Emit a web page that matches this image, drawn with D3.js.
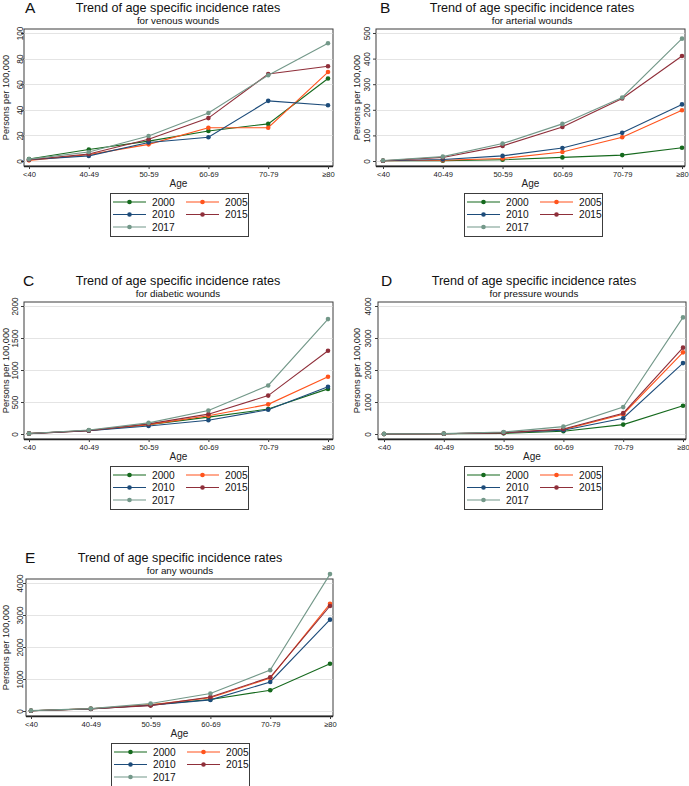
<!DOCTYPE html>
<html><head><meta charset="utf-8">
<script src="https://cdn.jsdelivr.net/npm/d3@7"></script>
<style>
html,body{margin:0;padding:0;background:#fff;}
svg{display:block;font-family:"Liberation Sans",Arial,sans-serif;}
</style></head>
<body>
<svg id="chart" width="689" height="786"></svg>
<script>
// ---- data ----
const ageGroups = ["<40","40-49","50-59","60-69","70-79","\u226580"];
const years = ["2000","2005","2010","2015","2017"];
const yearColors = ["#15691d","#ff531c","#1d4c7a","#8f2f3a","#739889"];

const venousRates = [
  [1.5, 9, 15.5, 23.5, 29, 64.5],
  [0.5, 5, 13, 26, 26, 69.5],
  [1, 4, 14.5, 18.5, 47, 43.5],
  [1, 5.5, 17, 33.5, 68, 74],
  [1.5, 7, 19.5, 37.5, 67, 92]
];
const arterialRates = [
  [1, 1, 5, 14, 23, 52],
  [1, 3, 10, 35, 93, 198],
  [1, 6, 20, 51, 110, 221],
  [1, 14, 59, 133, 244, 410],
  [2, 17, 68, 145, 248, 478]
];
const diabeticRates = [
  [8, 55, 147, 263, 390, 705],
  [6, 50, 147, 284, 463, 895],
  [6, 50, 126, 216, 379, 737],
  [7, 55, 158, 310, 600, 1300],
  [8, 62, 174, 368, 758, 1795]
];
const pressureRates = [
  [2, 8, 21, 84, 294, 882],
  [2, 10, 42, 136, 620, 2551],
  [2, 10, 42, 115, 493, 2215],
  [2, 10, 42, 157, 651, 2698],
  [3, 12, 63, 231, 840, 3643]
];
const anyRates = [
  [10, 68, 190, 358, 650, 1478],
  [9, 65, 190, 414, 1030, 3348],
  [9, 64, 180, 347, 907, 2855],
  [10, 68, 168, 437, 1053, 3281],
  [12, 75, 235, 549, 1277, 4278]
];

const venousTicks = [0, 20, 40, 60, 80, 100];
const arterialTicks = [0, 100, 200, 300, 400, 500];
const diabeticTicks = [0, 500, 1000, 1500, 2000];
const pressureTicks = [0, 1000, 2000, 3000, 4000];
const anyTicks = [0, 1000, 2000, 3000, 4000];

const panelLetters = ["A","B","C","D","E"];
const mainTitle = "Trend of age specific incidence rates";
const subTitles = ["for venous wounds","for arterial wounds","for diabetic wounds","for pressure wounds","for any wounds"];
const yAxisTitle = "Persons per 100,000";
const xAxisTitle = "Age";

// ---- layout ----
const layouts = [
  {dy:0,   frameL:24,  frameR:333, xFirst:29,  xLast:328, yLabX:23,  yTitX:8.5, titleX:178, legX:110, letterX:25},
  {dy:0,   frameL:376, frameR:685, xFirst:383, xLast:682, yLabX:370, yTitX:360, titleX:532, legX:464, letterX:380},
  {dy:273, frameL:24,  frameR:333, xFirst:29,  xLast:328, yLabX:18,  yTitX:8.5, titleX:178, legX:110, letterX:23},
  {dy:273, frameL:378, frameR:686, xFirst:384, xLast:683, yLabX:371, yTitX:360, titleX:534, legX:464, letterX:381},
  {dy:550, frameL:26,  frameR:333, xFirst:31,  xLast:330, yLabX:23,  yTitX:9,   titleX:180, legX:111, letterX:25}
];
const panelData = [venousRates, arterialRates, diabeticRates, pressureRates, anyRates];
const panelTicks = [venousTicks, arterialTicks, diabeticTicks, pressureTicks, anyTicks];

const svg = d3.select("#chart");
const frameColor = "#3c3c3c";

function drawPanel(i){
  const L = layouts[i], data = panelData[i], ticks = panelTicks[i];
  const g = svg.append("g").attr("transform", `translate(0,${L.dy})`);
  const frameT = 29, frameB = 166, y0 = 161, yTop = 33;

  g.append("text").attr("x", L.letterX).attr("y", 13).attr("font-size", 15.5).attr("fill","#111").text(panelLetters[i]);
  g.append("text").attr("x", L.titleX).attr("y", 12).attr("text-anchor","middle").attr("font-size", 12.6).attr("fill","#111").text(mainTitle);
  g.append("text").attr("x", L.titleX).attr("y", 24).attr("text-anchor","middle").attr("font-size", 9.8).attr("fill","#111").text(subTitles[i]);

  const x = d3.scalePoint().domain(ageGroups).range([L.xFirst, L.xLast]);
  const y = d3.scaleLinear().domain([0, ticks[ticks.length-1]]).range([y0, yTop]);

  // plot region
  g.append("rect").attr("x", L.frameL).attr("y", frameT).attr("width", L.frameR-L.frameL).attr("height", frameB-frameT)
    .attr("fill","#fff").attr("stroke", frameColor).attr("stroke-width", 1);

  // gridlines
  g.append("g").selectAll("line").data(ticks).join("line")
    .attr("x1", L.frameL+0.5).attr("x2", L.frameR-0.5)
    .attr("y1", d => Math.round(y(d))+0.5).attr("y2", d => Math.round(y(d))+0.5)
    .attr("stroke","#e4e4e4").attr("stroke-width",1);

  // y axis
  const ya = g.append("g").attr("transform", `translate(${L.frameL},0)`)
    .call(d3.axisLeft(y).tickValues(ticks).tickSize(3).tickFormat(d3.format("d")));
  ya.select(".domain").remove();
  ya.selectAll(".tick line").attr("stroke", frameColor);
  ya.selectAll(".tick text").attr("font-size", 8.2).attr("fill","#222")
    .attr("x", 0).attr("dy", 0).attr("text-anchor","middle")
    .attr("transform", `translate(${L.yLabX - L.frameL},0) rotate(-90)`);

  // x axis
  const xa = g.append("g").attr("transform", `translate(0,${frameB})`)
    .call(d3.axisBottom(x).tickSize(3).tickPadding(2));
  xa.select(".domain").attr("d", `M${L.frameL},0.5H${L.frameR}`).attr("stroke", "#222").attr("stroke-width",1.3);
  xa.selectAll(".tick line").attr("stroke", frameColor);
  xa.selectAll(".tick text").attr("font-size", 7.6).attr("fill","#222").attr("dy", "0.75em");

  g.append("text").attr("transform", `translate(${L.yTitX},${(frameT+frameB)/2}) rotate(-90)`)
    .attr("text-anchor","middle").attr("font-size", 9.2).attr("fill","#222").text(yAxisTitle);
  g.append("text").attr("x", (L.frameL+L.frameR)/2).attr("y", 187).attr("text-anchor","middle")
    .attr("font-size", 10).attr("fill","#222").text(xAxisTitle);

  // series
  const line = d3.line().x((d,j) => x(ageGroups[j])).y(d => y(d));
  data.forEach((vals, k) => {
    g.append("path").datum(vals).attr("d", line).attr("fill","none")
      .attr("stroke", yearColors[k]).attr("stroke-width", 1.1);
    g.append("g").selectAll("circle").data(vals).join("circle")
      .attr("cx", (d,j) => x(ageGroups[j])).attr("cy", d => y(d)).attr("r", 2.3)
      .attr("fill", yearColors[k]);
  });

  // legend
  const lg = g.append("g").attr("transform", `translate(${L.legX},193)`);
  lg.append("rect").attr("x",0.5).attr("y",0.5).attr("width",138).attr("height",43)
    .attr("fill","#fff").attr("stroke", frameColor).attr("stroke-width",1);
  years.forEach((yr, k) => {
    const col = k % 2, row = Math.floor(k/2);
    const lx = 3 + col*73, ly = 9 + row*12.5;
    lg.append("line").attr("x1", lx).attr("x2", lx+33).attr("y1", ly).attr("y2", ly)
      .attr("stroke", yearColors[k]).attr("stroke-width", 1.1);
    lg.append("circle").attr("cx", lx+16.5).attr("cy", ly).attr("r", 2.3).attr("fill", yearColors[k]);
    lg.append("text").attr("x", lx+39).attr("y", ly+3.6).attr("font-size", 10.2).attr("fill","#111").text(yr);
  });
}

for (let i = 0; i < 5; i++) drawPanel(i);
</script>
</body></html>
